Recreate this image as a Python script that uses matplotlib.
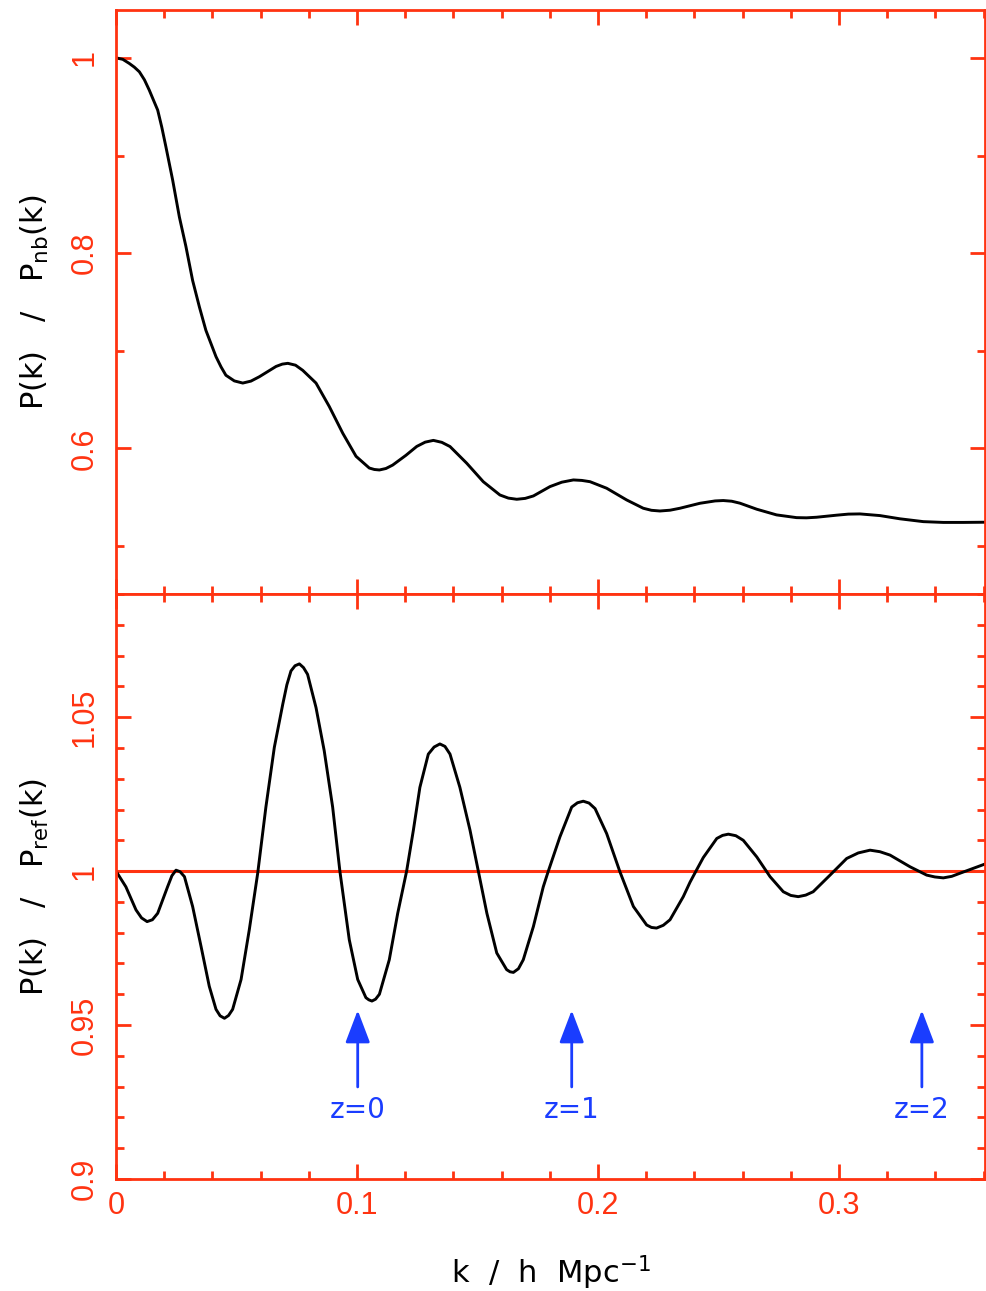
import matplotlib
matplotlib.use("Agg")
import matplotlib.pyplot as plt
from matplotlib.ticker import MultipleLocator, FixedLocator, FuncFormatter

plt.rcParams['font.family'] = ['Liberation Sans', 'DejaVu Sans']
plt.rcParams['mathtext.default'] = 'regular'

# ---- data ----
k_top = [0.0, 0.0028, 0.0055, 0.0076, 0.0097, 0.0118, 0.0138, 0.0155, 0.0173, 0.0190,
         0.0207, 0.0235, 0.0263, 0.0290, 0.0318, 0.0346, 0.0373, 0.0415, 0.0436, 0.0456,
         0.0491, 0.0526, 0.0560, 0.0595, 0.0664, 0.0690, 0.0713, 0.0745, 0.0775, 0.0830,
         0.0885, 0.0941, 0.0996, 0.1051, 0.1072, 0.1093, 0.1120, 0.1148, 0.1203, 0.1248,
         0.1283, 0.1317, 0.1352, 0.1386, 0.1455, 0.1524, 0.1593, 0.1628, 0.1663, 0.1698,
         0.1732, 0.1801, 0.1850, 0.1898, 0.1933, 0.1967, 0.2036, 0.2119, 0.2188, 0.2222,
         0.2257, 0.2299, 0.2340, 0.2423, 0.2486, 0.2520, 0.2555, 0.2589, 0.2659, 0.2741,
         0.2824, 0.2865, 0.2907, 0.2990, 0.3039, 0.3087, 0.3170, 0.3253, 0.3350, 0.3433,
         0.3516, 0.3606]
p_nb = [1.0, 0.9985, 0.9943, 0.9905, 0.9857, 0.9775, 0.967, 0.957, 0.9465, 0.929,
        0.909, 0.875, 0.837, 0.807, 0.772, 0.745, 0.721, 0.694, 0.6835, 0.675,
        0.6692, 0.667, 0.669, 0.6735, 0.684, 0.6864, 0.6872, 0.6853, 0.680, 0.667,
        0.643, 0.6156, 0.592, 0.580, 0.5785, 0.578, 0.5795, 0.583, 0.593, 0.6021,
        0.6065, 0.6083, 0.6063, 0.602, 0.585, 0.566, 0.5524, 0.5492, 0.548, 0.5489,
        0.5514, 0.561, 0.5655, 0.5678, 0.5673, 0.566, 0.5593, 0.5473, 0.5388, 0.5367,
        0.536, 0.5368, 0.5388, 0.5439, 0.5463, 0.5467, 0.5460, 0.544, 0.5378, 0.532,
        0.5292, 0.5290, 0.5296, 0.5317, 0.5328, 0.533, 0.5313, 0.528, 0.5251, 0.5243,
        0.5243, 0.5245]

k_bot = [0.0, 0.0041, 0.0083, 0.0106, 0.0129, 0.0151, 0.0173, 0.0214, 0.0232, 0.0249,
         0.0266, 0.0284, 0.0318, 0.0353, 0.0387, 0.0415, 0.0432, 0.0450, 0.0467, 0.0484,
         0.0519, 0.0553, 0.0588, 0.0622, 0.0657, 0.0692, 0.0709, 0.0726, 0.0743, 0.0761,
         0.0778, 0.0795, 0.0830, 0.0864, 0.0899, 0.0929, 0.0968, 0.1003, 0.1037, 0.1049,
         0.1062, 0.1077, 0.1093, 0.1134, 0.1169, 0.1206, 0.1234, 0.1261, 0.1296, 0.1320,
         0.1344, 0.1365, 0.1386, 0.1427, 0.1469, 0.1504, 0.1539, 0.1580, 0.1621, 0.1635,
         0.1649, 0.1670, 0.1690, 0.1732, 0.1773, 0.1794, 0.1842, 0.1891, 0.1915, 0.1939,
         0.1963, 0.1988, 0.2036, 0.2091, 0.2147, 0.2202, 0.2222, 0.2243, 0.2271, 0.2299,
         0.2354, 0.2382, 0.2410, 0.2437, 0.2493, 0.2517, 0.2541, 0.2572, 0.2603, 0.2659,
         0.2714, 0.2769, 0.2800, 0.2831, 0.2862, 0.2893, 0.2963, 0.3032, 0.3080, 0.3129,
         0.3170, 0.3212, 0.3295, 0.3364, 0.3398, 0.3433, 0.3468, 0.3502, 0.3606]
p_ref = [1.0, 0.9949, 0.9874, 0.9848, 0.9836, 0.9842, 0.9863, 0.9949, 0.9985, 1.0003,
         0.9998, 0.9982, 0.9885, 0.9755, 0.9626, 0.9551, 0.9530, 0.9522, 0.9531, 0.9551,
         0.9648, 0.9809, 0.9993, 1.0208, 1.0402, 1.0542, 1.0605, 1.065, 1.0667, 1.0673,
         1.0661, 1.0639, 1.0531, 1.0391, 1.0208, 1.0, 0.9777, 0.9648, 0.9589, 0.9582,
         0.9578, 0.9584, 0.960, 0.9712, 0.9863, 1.0000, 1.0133, 1.0272, 1.038, 1.0403,
         1.0413, 1.0405, 1.038, 1.0272, 1.0133, 0.9998, 0.9863, 0.9734, 0.968, 0.9673,
         0.9671, 0.9683, 0.9712, 0.982, 0.9949, 1.0, 1.0111, 1.0208, 1.0222, 1.0227,
         1.0221, 1.0203, 1.0122, 0.9998, 0.9885, 0.9825, 0.9817, 0.9815, 0.9824, 0.9842,
         0.9917, 0.9964, 1.0005, 1.0044, 1.0106, 1.0116, 1.012, 1.0115, 1.01, 1.0046,
         0.9982, 0.9933, 0.9921, 0.9917, 0.9922, 0.9933, 0.9987, 1.0041, 1.0059, 1.0068,
         1.0063, 1.0052, 1.0014, 0.9987, 0.9981, 0.9978, 0.9983, 0.9993, 1.0023]

z_labels = ['z=0', 'z=1', 'z=2']
z_k = [0.1003, 0.1891, 0.3344]
arrow_tip = 0.9548
arrow_tail = 0.9299
label_y = 0.9198

x_ticks = [0, 0.1, 0.2, 0.3]
top_yticks = [0.6, 0.8, 1.0]
bot_yticks = [0.9, 0.95, 1.0, 1.05]

RED = '#ff3311'
BLUE = '#1a3dff'
LABEL_FONT = ['DejaVu Sans']

W, H = 986, 1291
fig = plt.figure(figsize=(W / 100, H / 100), dpi=100)
L, R = 116 / W, 985 / W
ax1 = fig.add_axes([L, 1 - 594 / H, R - L, (594 - 10) / H])
ax2 = fig.add_axes([L, 1 - 1179 / H, R - L, (1179 - 594) / H])

fmt = FuncFormatter(lambda v, p: '%g' % round(v, 4))

for ax in (ax1, ax2):
    for s in ax.spines.values():
        s.set_color(RED)
        s.set_linewidth(2.0)
    ax.set_xlim(0, 0.3606)
    ax.xaxis.set_major_locator(FixedLocator(x_ticks))
    ax.xaxis.set_minor_locator(MultipleLocator(0.02))
    ax.xaxis.set_major_formatter(fmt)
    ax.tick_params(which='both', direction='in', top=True, right=True,
                   color=RED, labelcolor=RED, width=2.0, labelsize=22)
    ax.tick_params(which='major', length=11)
    ax.tick_params(which='minor', length=5.5)
    ax.tick_params(axis='x', pad=9)
    ax.tick_params(axis='y', pad=12)
    ax.yaxis.set_major_formatter(fmt)

# top panel
ax1.plot(k_top, p_nb, color='black', lw=2.1, solid_joinstyle='round')
ax1.set_ylim(0.451, 1.049)
ax1.yaxis.set_major_locator(FixedLocator(top_yticks))
ax1.yaxis.set_minor_locator(FixedLocator([0.5, 0.7, 0.9]))
ax1.tick_params(axis='x', labelbottom=False)
ax1.set_ylabel('P(k)   /   P$_{nb}$(k)', fontsize=22, color='black',
               family=LABEL_FONT, va='baseline')
ax1.yaxis.set_label_coords(-0.083, 0.5)

# bottom panel
ax2.axhline(1.0, color=RED, lw=2.2)
ax2.plot(k_bot, p_ref, color='black', lw=2.1, solid_joinstyle='round')
ax2.set_ylim(0.9, 1.09)
ax2.yaxis.set_major_locator(FixedLocator(bot_yticks))
ax2.yaxis.set_minor_locator(MultipleLocator(0.01))
ax2.set_ylabel('P(k)   /   P$_{ref}$(k)', fontsize=22, color='black',
               family=LABEL_FONT, va='baseline')
ax2.yaxis.set_label_coords(-0.083, 0.5)
ax2.set_xlabel('k  /  h  Mpc$^{-1}$', fontsize=22, color='black',
               family=LABEL_FONT, va='baseline')
ax2.xaxis.set_label_coords(0.5, -0.178)

for lab in ax1.get_yticklabels() + ax2.get_yticklabels():
    lab.set_rotation(90)
    lab.set_va('center')

for kz, lab in zip(z_k, z_labels):
    ax2.annotate('', xy=(kz, arrow_tip), xytext=(kz, arrow_tail),
                 arrowprops=dict(arrowstyle='-|>,head_length=1.0,head_width=0.38',
                                 mutation_scale=20, color=BLUE, lw=2.0,
                                 shrinkA=0, shrinkB=0))
    ax2.text(kz, label_y, lab, color=BLUE, fontsize=20, ha='center', va='baseline',
             family=LABEL_FONT)

fig.savefig('out.png', dpi=100)
